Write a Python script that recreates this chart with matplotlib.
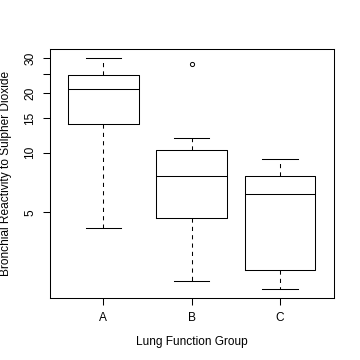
import matplotlib
matplotlib.use("Agg")
import matplotlib.pyplot as plt
from matplotlib.ticker import NullLocator

# Box statistics (log scale)
groups = ["A", "B", "C"]
whislo = [4.15, 2.25, 2.05]
q1 = [13.9, 4.66, 2.56]
med = [20.9, 7.6, 6.16]
q3 = [24.6, 10.3, 7.6]
whishi = [30.0, 11.9, 9.3]
outliers = [[], [28.1], []]

yticks = [5, 10, 15, 20, 25, 30]
ytick_labels = ["5", "10", "15", "20", "", "30"]

plt.rcParams["font.family"] = ["Liberation Sans", "DejaVu Sans"]
plt.rcParams["font.size"] = 8.6

stats = []
for i in range(len(groups)):
    stats.append(dict(label=groups[i], whislo=whislo[i], q1=q1[i], med=med[i],
                      q3=q3[i], whishi=whishi[i], fliers=outliers[i]))

fig = plt.figure(figsize=(3.6, 3.6), dpi=100)
ax = fig.add_axes([50 / 360, 1 - 298 / 360, 284 / 360, 249 / 360])

lw = 0.75
ax.bxp(stats, widths=0.8,
       boxprops=dict(color="black", linewidth=lw),
       medianprops=dict(color="black", linewidth=lw),
       whiskerprops=dict(color="black", linewidth=lw, linestyle=(0, (4, 4))),
       capprops=dict(color="black", linewidth=lw),
       capwidths=0.4,
       flierprops=dict(marker="o", markersize=3.0, markerfacecolor="none",
                       markeredgecolor="black", markeredgewidth=0.7))

ax.set_yscale("log")
ax.set_ylim(1.85, 33.4)
ax.set_xlim(0.396, 3.61)
ax.set_yticks(yticks)
ax.set_yticklabels(ytick_labels)
ax.yaxis.set_minor_locator(NullLocator())
ax.set_xticks([1, 2, 3])
ax.set_xticklabels(groups)

for s in ax.spines.values():
    s.set_linewidth(lw)
ax.tick_params(direction="out", length=5, width=lw, colors="black")
ax.tick_params(axis="x", pad=5)
ax.tick_params(axis="y", pad=5)
for t in ax.get_yticklabels():
    t.set_rotation(90)
    t.set_va("center")

ax.set_xlabel("Lung Function Group")
ax.set_ylabel("Bronchial Reactivity to Sulpher Dioxide")
ax.xaxis.set_label_coords(0.5, -0.153)
ax.yaxis.set_label_coords(-0.134, 0.5)

fig.savefig("out.png", dpi=100)
